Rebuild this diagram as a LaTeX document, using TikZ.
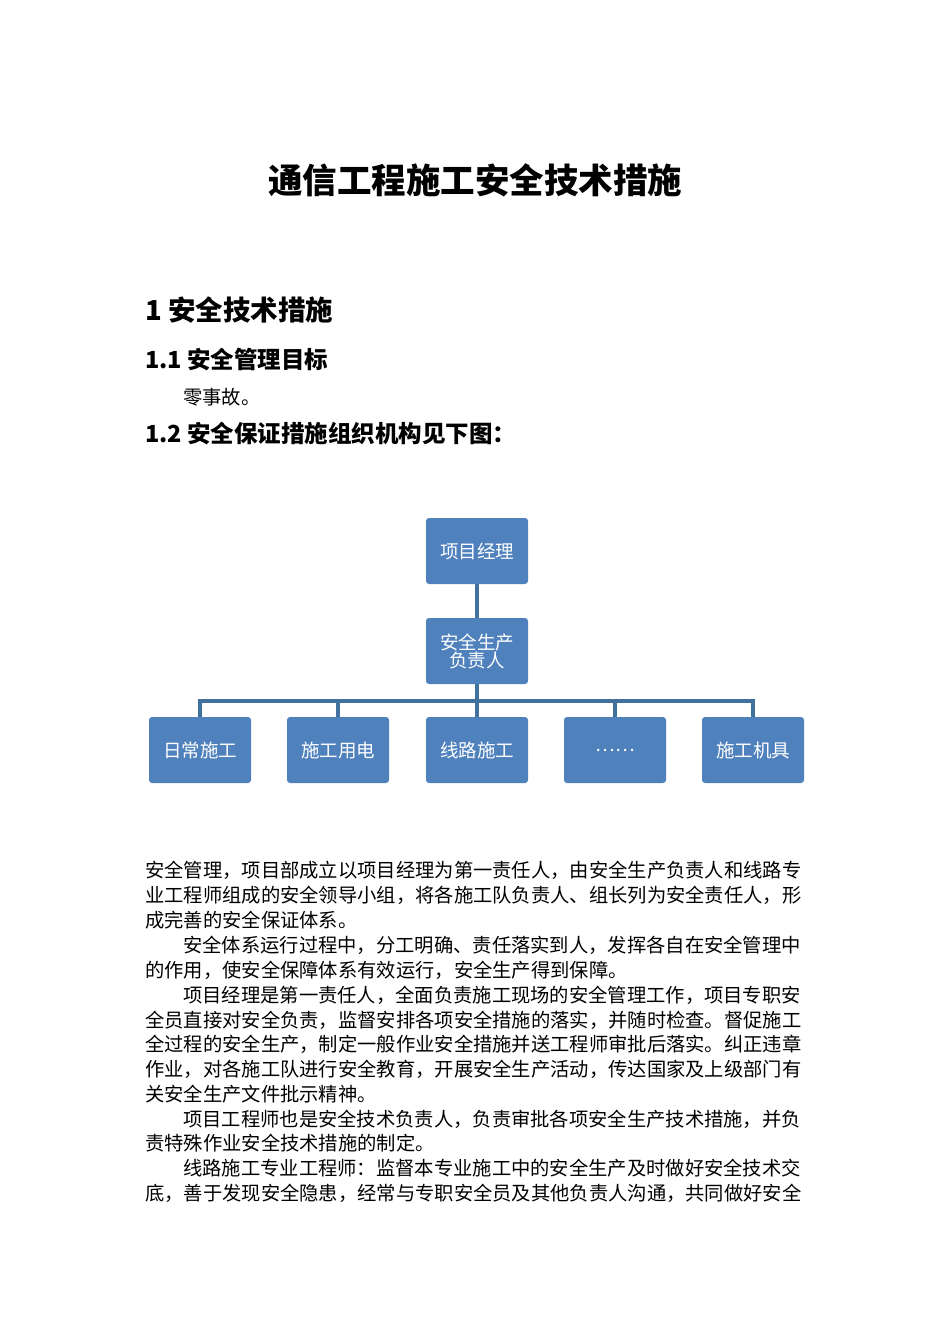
\documentclass[tikz,border=0pt]{standalone}
\usepackage{fontspec}
\setmainfont{Noto Sans CJK SC}
\begin{document}
\begin{tikzpicture}[x=1pt,y=-1pt,
  org/.style={draw=none,fill=boxblue,rounded corners=3pt,minimum width=102pt,minimum height=66pt,text=white,font=\fontsize{18.5}{21}\selectfont,align=center,inner sep=0pt},
  conn/.style={draw=lineblue,line width=3.4pt},
  body/.style={anchor=west,inner sep=0pt,font=\fontsize{19.3}{22}\selectfont},
  h1/.style={anchor=west,inner sep=0pt,font=\fontsize{27.5}{30}\selectfont\bfseries},
  h2/.style={anchor=west,inner sep=0pt,font=\fontsize{23.5}{26}\selectfont\bfseries}]
\definecolor{boxblue}{HTML}{4F81BD}
\definecolor{lineblue}{HTML}{41719C}
\useasboundingbox[fill=white] (0,0) rectangle (950,1344);
\node[inner sep=0pt,font=\fontsize{34.5}{38}\selectfont\bfseries] (title) at (475,180) {通信工程施工安全技术措施};
\node[h1] (s1) at (145,310) {1 安全技术措施};
\node[h2] (s11) at (145,360) {1.1 安全管理目标};
\node[body] (z) at (183,397) {零事故。};
\node[h2] (s12) at (145,434) {1.2 安全保证措施组织机构见下图：};
% org chart
\node[org] (pm) at (477,551) {项目经理};
\node[org] (sp) at (477,651) {安全生产\\[-3pt]负责人};
\node[org] (b1) at (200,750) {日常施工};
\node[org] (b2) at (338,750) {施工用电};
\node[org] (b3) at (477,750) {线路施工};
\node[org] (b4) at (615,750) {……};
\node[org] (b5) at (753,750) {施工机具};
\coordinate (bus) at (477,701);
\draw[conn] (pm.south) -- (sp.north);
\draw[conn] (sp.south) -- (b3.north);
\draw[conn] (b1.north) -- (b1.north |- bus) -- (b5.north |- bus) -- (b5.north);
\draw[conn] (b2.north) -- (b2.north |- bus);
\draw[conn] (b4.north) -- (b4.north |- bus);
% body text
\node[body] (l1) at (145,870) {安全管理，项目部成立以项目经理为第一责任人，由安全生产负责人和线路专};
\node[body] (l2) at (145,895) {业工程师组成的安全领导小组，将各施工队负责人、组长列为安全责任人，形};
\node[body] (l3) at (145,920) {成完善的安全保证体系。};
\node[body] (l4) at (183,945) {安全体系运行过程中，分工明确、责任落实到人，发挥各自在安全管理中};
\node[body] (l5) at (145,970) {的作用，使安全保障体系有效运行，安全生产得到保障。};
\node[body] (l6) at (183,995) {项目经理是第一责任人，全面负责施工现场的安全管理工作，项目专职安};
\node[body] (l7) at (145,1020) {全员直接对安全负责，监督安排各项安全措施的落实，并随时检查。督促施工};
\node[body] (l8) at (145,1044) {全过程的安全生产，制定一般作业安全措施并送工程师审批后落实。纠正违章};
\node[body] (l9) at (145,1069) {作业，对各施工队进行安全教育，开展安全生产活动，传达国家及上级部门有};
\node[body] (l10) at (145,1094) {关安全生产文件批示精神。};
\node[body] (l11) at (183,1119) {项目工程师也是安全技术负责人，负责审批各项安全生产技术措施，并负};
\node[body] (l12) at (145,1143) {责特殊作业安全技术措施的制定。};
\node[body] (l13) at (183,1168) {线路施工专业工程师：监督本专业施工中的安全生产及时做好安全技术交};
\node[body] (l14) at (145,1193) {底，善于发现安全隐患，经常与专职安全员及其他负责人沟通，共同做好安全};
\end{tikzpicture}
\end{document}
